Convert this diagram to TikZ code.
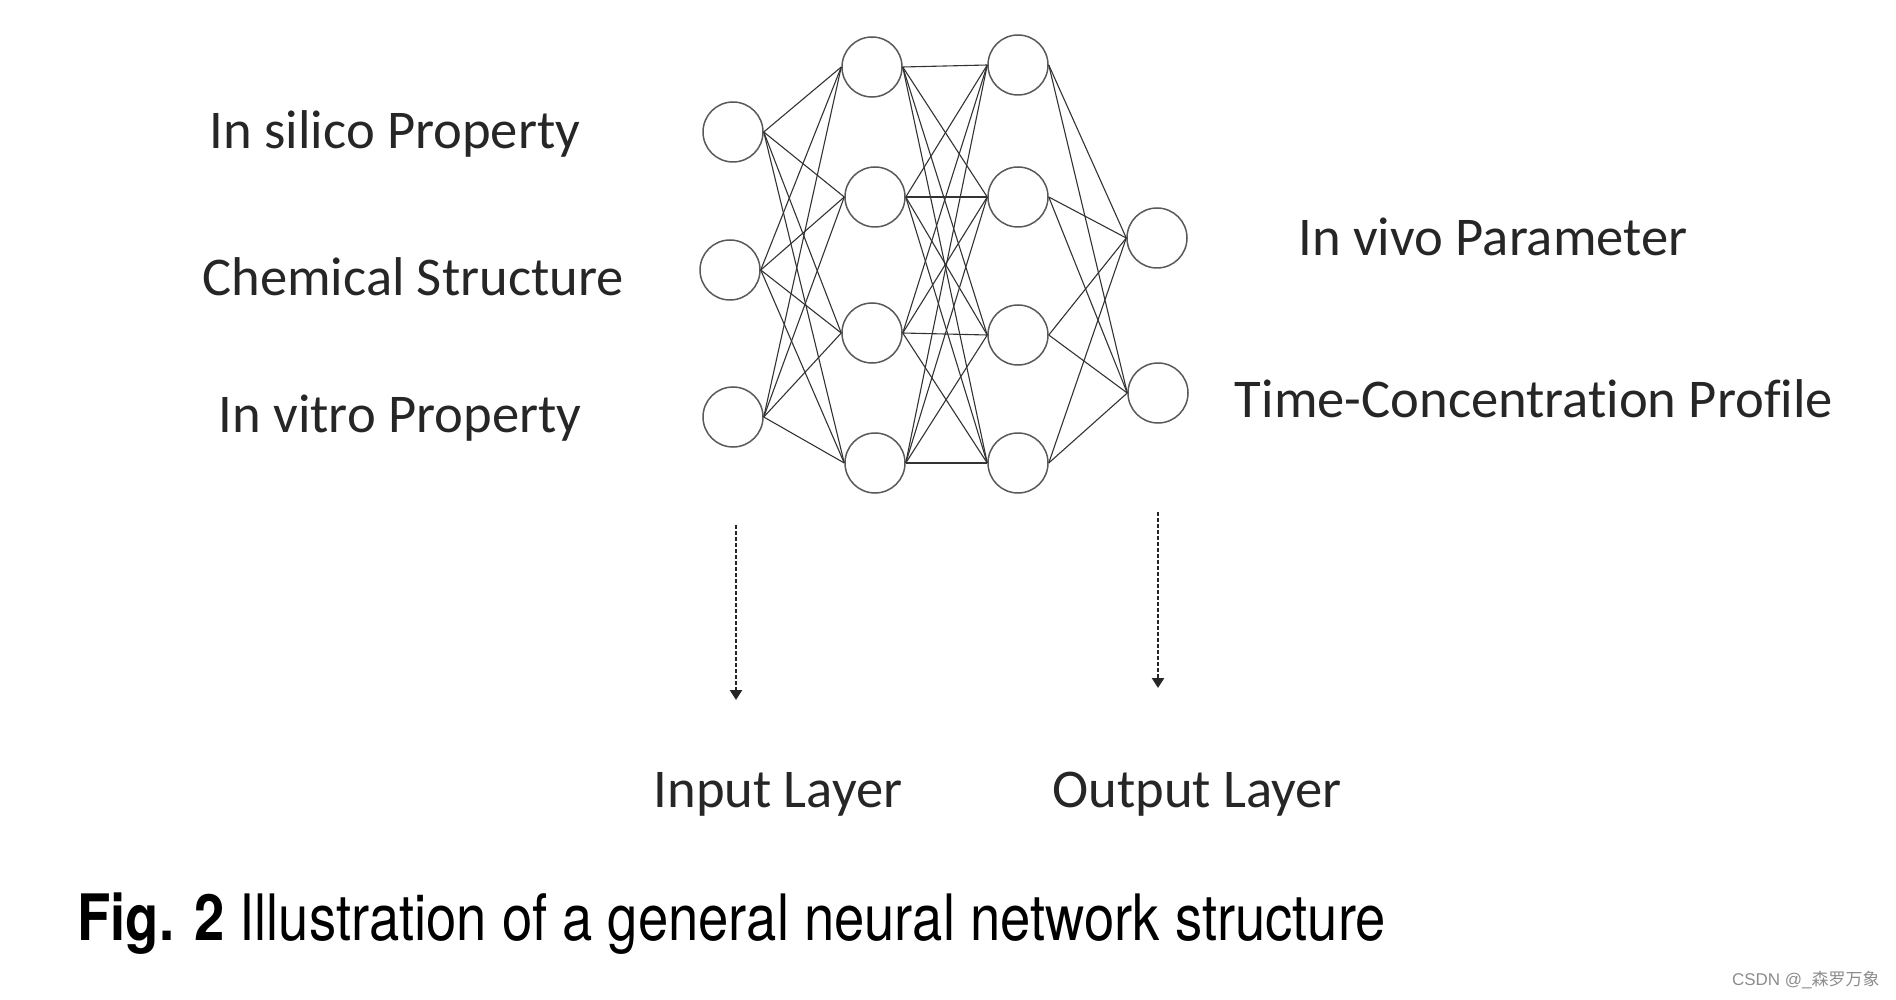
\documentclass[tikz,border=0pt]{standalone}
\usepackage{fontspec}
\setmainfont[Ligatures={NoCommon}]{Carlito}
\newfontfamily\capfont[FakeStretch=0.85]{TeX Gyre Heros}
\newfontfamily\cjk{Noto Sans CJK SC}
\usetikzlibrary{arrows.meta}
\begin{document}
\begin{tikzpicture}[x=0.5pt,y=-0.5pt,
  neuron/.style={circle,draw=black!65,line width=0.75pt,minimum size=30pt,inner sep=0pt},
  link/.style={draw=black!80,line width=0.55pt},
  lbl/.style={font=\fontsize{27.3}{31}\selectfont,text=black!85,inner sep=0pt},
  dotarrow/.style={draw=black!85,line width=1.3pt,dash pattern=on 2pt off 1pt,-{Triangle[width=6pt,length=5pt]}}]
\useasboundingbox (0,0) rectangle (1896,1000);
% input layer
\node[neuron] (i1) at (733,132) {};
\node[neuron] (i2) at (730,270) {};
\node[neuron] (i3) at (733,417) {};
% hidden 1
\node[neuron] (a1) at (872,67) {};
\node[neuron] (a2) at (875,197) {};
\node[neuron] (a3) at (872,333) {};
\node[neuron] (a4) at (875,463) {};
% hidden 2
\node[neuron] (b1) at (1018,65) {};
\node[neuron] (b2) at (1018,197) {};
\node[neuron] (b3) at (1018,335) {};
\node[neuron] (b4) at (1018,463) {};
% output
\node[neuron] (o1) at (1157,238) {};
\node[neuron] (o2) at (1158,393) {};
% connections
\foreach \s in {1,2,3}{\foreach \t in {1,2,3,4}{\draw[link] (i\s.east) -- (a\t.west);}}
\foreach \s in {1,2,3,4}{\foreach \t in {1,2,3,4}{\draw[link] (a\s.east) -- (b\t.west);}}
\foreach \s in {1,2,3,4}{\foreach \t in {1,2}{\draw[link] (b\s.east) -- (o\t.west);}}
% labels
\node[lbl] (l1) at (395,134) {In silico Property};
\node[lbl] (l2) at (413,277) {Chemical Structure};
\node[lbl] (l3) at (400,418) {In vitro Property};
\node[lbl] (r1) at (1493,237) {In vivo Parameter};
\node[lbl] (r2) at (1534,399) {Time-Concentration Profile};
\node[lbl] (inl) at (778,794) {Input Layer};
\node[lbl] (outl) at (1197,794) {Output Layer};
% arrows
\coordinate (as) at (736,525);
\coordinate (ae) at (736,700);
\coordinate (bs) at (1158,512);
\coordinate (be) at (1158,688);
\draw[dotarrow] (as) -- (ae);
\draw[dotarrow] (bs) -- (be);
% caption
\node[anchor=west,inner sep=0pt,font=\capfont\fontsize{32}{36}\selectfont] (cap) at (77,924) {\textbf{Fig. 2} Illustration of a general neural network structure};
% watermark
\node[anchor=east,inner sep=0pt,text=black!45,font=\fontsize{8.5}{10}\selectfont] (wm) at (1880,980) {\fontspec{Liberation Sans}CSDN @\_{\cjk 森罗万象}};
\end{tikzpicture}
\end{document}
